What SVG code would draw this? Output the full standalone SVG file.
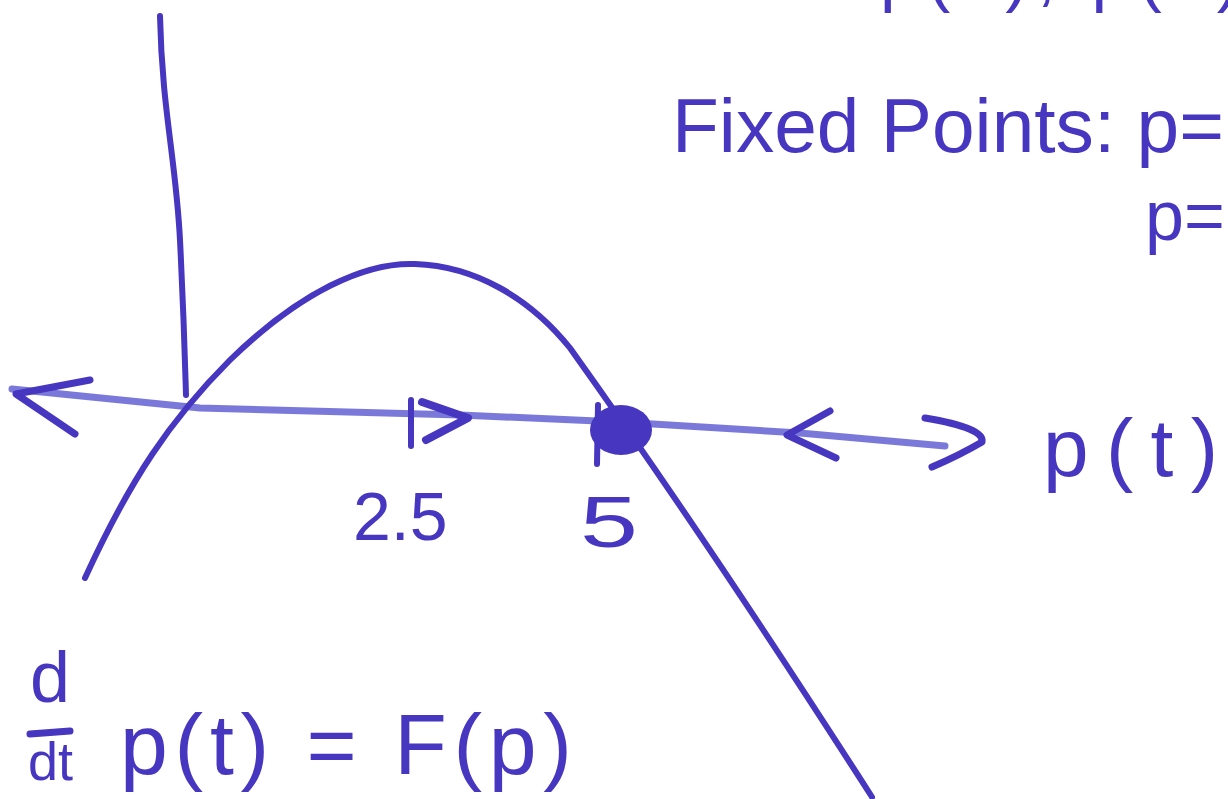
<svg xmlns="http://www.w3.org/2000/svg" width="1228" height="799" viewBox="0 0 1228 799">
<style>
.ink{fill:none;stroke:#4636c0;stroke-linecap:round;stroke-linejoin:round}
.axis{fill:none;stroke:#6b6ad6;stroke-width:7;stroke-linecap:round;stroke-opacity:0.9}
.t{fill:#4636c0;font-family:"Liberation Sans","DejaVu Sans",sans-serif}
</style>
<rect width="1228" height="799" fill="#ffffff"/>
<g id="axes">
<path class="ink" stroke-width="6" d="M160,16 C162,110 176,160 180,240 C184,320 185,360 186,395"/>
<path class="axis" d="M12,389 L200,408 L460,415 L620,422 L800,433 L945,446"/>
<path class="ink" stroke-width="7" d="M90,380 L16,394 L75,434"/>
<path class="ink" stroke-width="7" d="M830,411 L787,435 L836,458"/>
<path class="ink" stroke-width="7" d="M925,418 Q985,428 982,442 Q960,455 932,467"/>
</g>
<g id="curve">
<path class="ink" stroke-width="6" d="M85,578 C130,480 170,420 230,360 C300,292 365,262 415,264 C475,266 530,298 570,348 C620,418 720,560 872,797"/>
</g>
<g id="markers">
<path class="ink" stroke-width="6" d="M411,400 L411,446"/>
<path class="ink" stroke-width="8" d="M422,402 L468,418 L426,440"/>
<path class="ink" stroke-width="6" d="M598,405 L597,464"/>
<ellipse cx="621" cy="430" rx="31" ry="25" fill="#4636c0"/>
</g>
<g id="labels">
<text class="t" x="353" y="540" font-size="68">2.5</text>
<text class="t" x="580" y="547" font-size="72" textLength="58" lengthAdjust="spacingAndGlyphs">5</text>
<text class="t" x="1043" y="476" font-size="82" textLength="175" lengthAdjust="spacing">p(t)</text>
</g>
<g id="fixed-points">
<text class="t" x="880" y="-2" font-size="70" textLength="360" lengthAdjust="spacing">p(0), p(5)</text>
<text class="t" x="672" y="152" font-size="76" textLength="552" lengthAdjust="spacingAndGlyphs">Fixed Points: p=</text>
<text class="t" x="1145" y="240" font-size="70">p=</text>
</g>
<g id="equation">
<text class="t" x="30" y="702" font-size="72">d</text>
<path class="ink" stroke-width="7" d="M30,734 L70,731"/>
<text class="t" x="28" y="780" font-size="54">dt</text>
<text class="t" x="120" y="774" font-size="86" textLength="452" lengthAdjust="spacing">p(t) = F(p)</text>
</g>
</svg>
